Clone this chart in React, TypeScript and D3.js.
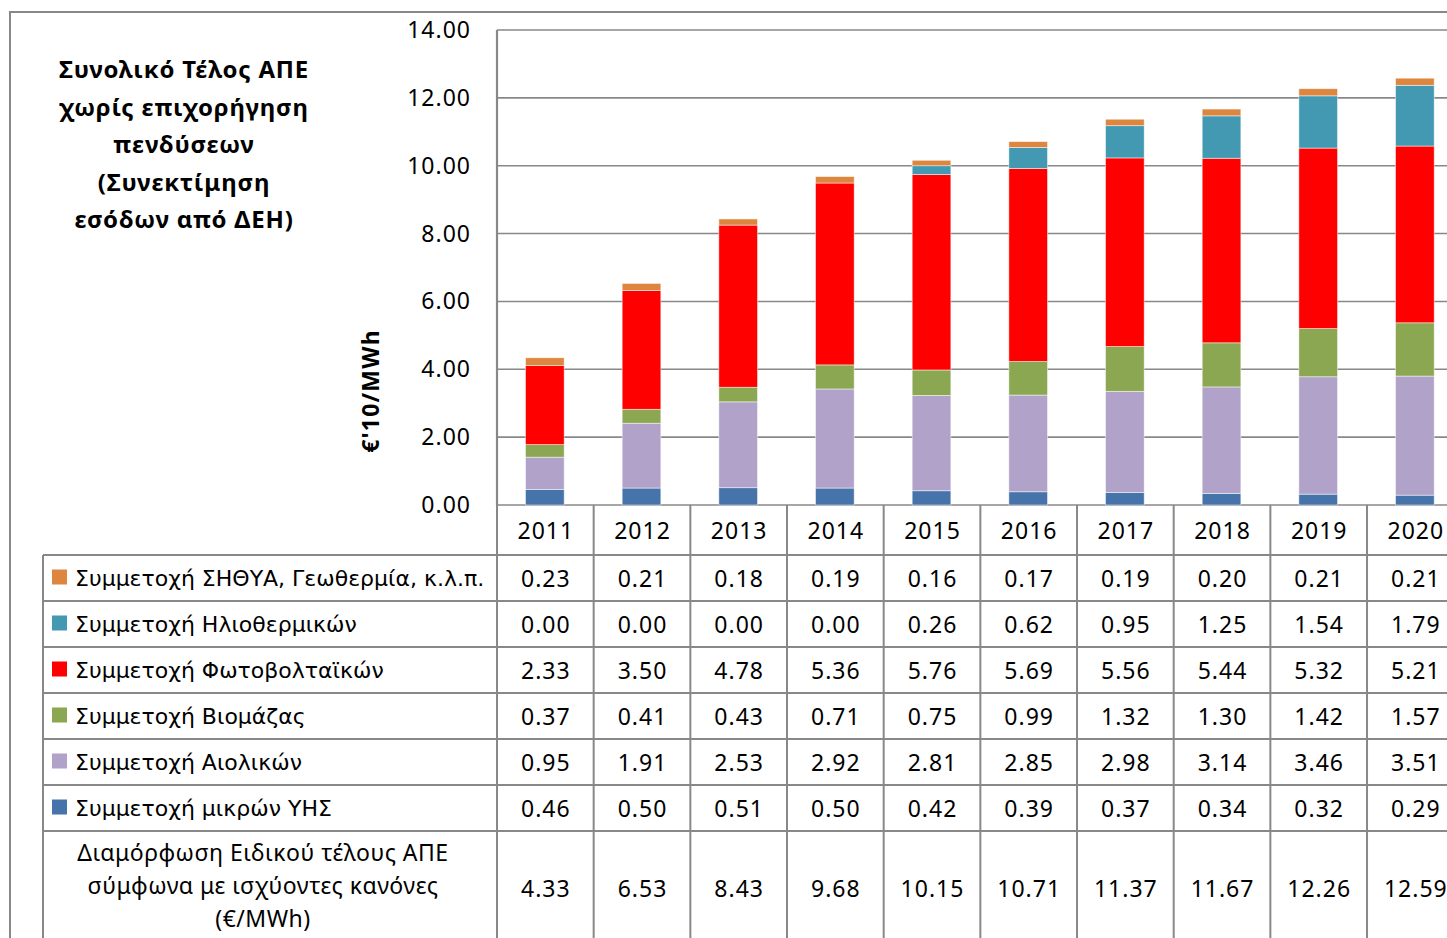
import React from "react";
import * as d3 from "d3";

const years = ["2011", "2012", "2013", "2014", "2015", "2016", "2017", "2018", "2019", "2020"];
const seriesNames = [
  "Συμμετοχή ΣΗΘΥΑ, Γεωθερμία, κ.λ.π.",
  "Συμμετοχή Ηλιοθερμικών",
  "Συμμετοχή Φωτοβολταϊκών",
  "Συμμετοχή Βιομάζας",
  "Συμμετοχή Αιολικών",
  "Συμμετοχή μικρών ΥΗΣ",
];
const chpGeo = [0.23, 0.21, 0.18, 0.19, 0.16, 0.17, 0.19, 0.2, 0.21, 0.21];
const solarThermal = [0.0, 0.0, 0.0, 0.0, 0.26, 0.62, 0.95, 1.25, 1.54, 1.79];
const photovoltaic = [2.33, 3.5, 4.78, 5.36, 5.76, 5.69, 5.56, 5.44, 5.32, 5.21];
const biomass = [0.37, 0.41, 0.43, 0.71, 0.75, 0.99, 1.32, 1.3, 1.42, 1.57];
const wind = [0.95, 1.91, 2.53, 2.92, 2.81, 2.85, 2.98, 3.14, 3.46, 3.51];
const smallHydro = [0.46, 0.5, 0.51, 0.5, 0.42, 0.39, 0.37, 0.34, 0.32, 0.29];
const totals = [4.33, 6.53, 8.43, 9.68, 10.15, 10.71, 11.37, 11.67, 12.26, 12.59];
const yTicks = [0, 2, 4, 6, 8, 10, 12, 14];
const titleLines = ["Συνολικό Τέλος ΑΠΕ", "χωρίς επιχορήγηση", "πενδύσεων", "(Συνεκτίμηση", "εσόδων από ΔΕΗ)"];
const totalLabelLines = ["Διαμόρφωση Ειδικού τέλους ΑΠΕ", "σύμφωνα με ισχύοντες κανόνες", "(€/MWh)"];

const colors = ["#DD8640", "#4399B1", "#FF0000", "#8CA752", "#B0A2C8", "#4673A9"];
const seriesValues = [chpGeo, solarThermal, photovoltaic, biomass, wind, smallHydro];

const W = 1447;
const H = 938;
const NUM_FONT = "'Noto Sans', 'Open Sans', sans-serif";
const LEG_FONT = "'DejaVu Sans', sans-serif";
const GRID = "#888888";

export default function App() {
  const x = d3.scaleBand<string>().domain(years).range([497, 1463.7]).paddingInner(0).paddingOuter(0);
  const y = d3.scaleLinear().domain([0, 14]).range([505, 30]);
  const barW = x.bandwidth() / 2.5;

  const keys = ["smallHydro", "wind", "biomass", "photovoltaic", "solarThermal", "chpGeo"];
  const keyColor: Record<string, string> = {
    smallHydro: colors[5],
    wind: colors[4],
    biomass: colors[3],
    photovoltaic: colors[2],
    solarThermal: colors[1],
    chpGeo: colors[0],
  };
  const rows = years.map((yr, i) => ({
    year: yr,
    smallHydro: smallHydro[i],
    wind: wind[i],
    biomass: biomass[i],
    photovoltaic: photovoltaic[i],
    solarThermal: solarThermal[i],
    chpGeo: chpGeo[i],
  }));
  const stacked = d3.stack<any>().keys(keys)(rows);

  const rowTops = [555, 601, 647, 693, 739, 785, 831];
  const rowH = 46;
  const boundaries = years.map((yr) => x(yr) as number).concat([(x(years[years.length - 1]) as number) + x.bandwidth()]);
  const cx = (yr: string) => (x(yr) as number) + x.bandwidth() / 2 + 0.5;

  const numProps = { fontFamily: NUM_FONT, fontSize: 23, letterSpacing: 1, fill: "#000" };

  return (
    <div style={{ position: "absolute", left: 0, top: 0, width: W, height: H, overflow: "hidden", background: "#fff" }}>
      <svg width={W} height={H} style={{ display: "block" }}>
        <rect x={0} y={0} width={W} height={H} fill="#fff" />
        <rect x={10} y={12} width={W + 20} height={H + 20} fill="none" stroke={GRID} strokeWidth={2} />

        {/* title */}
        <g fontFamily={NUM_FONT} fontWeight="bold" fontSize={24} letterSpacing={0.8} textAnchor="middle" fill="#000">
          {titleLines.map((t, i) => (
            <text key={i} x={184} y={78 + i * 37.5}>
              {t}
            </text>
          ))}
        </g>

        {/* gridlines */}
        {yTicks.map((t) => (
          <line key={t} x1={497} x2={W + 10} y1={y(t)} y2={y(t)} stroke={GRID} strokeWidth={1.6} />
        ))}
        <line x1={497} x2={497} y1={y(14)} y2={y(0)} stroke={GRID} strokeWidth={2.2} />
        {yTicks.map((t) => (
          <text key={t} x={471} y={y(t)} dy="0.35em" textAnchor="end" {...numProps}>
            {d3.format(".2f")(t)}
          </text>
        ))}
        <text
          transform={`translate(379,391) rotate(-90)`}
          textAnchor="middle"
          fontFamily={NUM_FONT}
          fontWeight="bold"
          fontSize={23}
          letterSpacing={1.2}
          fill="#000"
        >
          €'10/MWh
        </text>

        {/* bars */}
        {stacked.map((layer) => (
          <g key={layer.key} fill={keyColor[layer.key]}>
            {layer.map((d, i) =>
              d[1] - d[0] > 0 ? (
                <rect
                  key={i}
                  x={(x(years[i]) as number) + (x.bandwidth() - barW) / 2 - 0.5}
                  y={y(d[1])}
                  width={barW}
                  height={y(d[0]) - y(d[1])}
                  stroke="#ffffff"
                  strokeOpacity={0.6}
                  strokeWidth={0.8}
                />
              ) : null
            )}
          </g>
        ))}

        {/* table lines */}
        {rowTops.map((ty) => (
          <line key={ty} x1={43} x2={W + 10} y1={ty} y2={ty} stroke={GRID} strokeWidth={2} />
        ))}
        <line x1={43} x2={43} y1={555} y2={H + 10} stroke={GRID} strokeWidth={2} />
        {boundaries.map((bx, i) => (
          <line key={i} x1={bx} x2={bx} y1={505} y2={H + 10} stroke={GRID} strokeWidth={2} />
        ))}

        {/* header years */}
        {years.map((yr) => (
          <text key={yr} x={cx(yr)} y={531} dy="0.35em" textAnchor="middle" {...numProps}>
            {yr}
          </text>
        ))}

        {/* series rows */}
        {seriesNames.map((name, r) => {
          const cy = rowTops[r] + rowH / 2;
          return (
            <g key={name}>
              <rect x={52} y={cy - 8.5} width={15} height={15} fill={colors[r]} />
              <text x={75} y={cy} dy="0.35em" fontFamily={LEG_FONT} fontSize={22} fill="#000">
                {name}
              </text>
              {seriesValues[r].map((v, i) => (
                <text key={i} x={cx(years[i])} y={cy + 1} dy="0.35em" textAnchor="middle" {...numProps}>
                  {d3.format(".2f")(v)}
                </text>
              ))}
            </g>
          );
        })}

        {/* totals row */}
        {totalLabelLines.map((t, i) => (
          <text
            key={i}
            x={263}
            y={853 + i * 33}
            dy="0.35em"
            textAnchor="middle"
            fontFamily={NUM_FONT}
            fontSize={23}
            letterSpacing={0.5}
            fill="#000"
          >
            {t}
          </text>
        ))}
        {totals.map((v, i) => (
          <text key={i} x={cx(years[i])} y={889} dy="0.35em" textAnchor="middle" {...numProps}>
            {d3.format(".2f")(v)}
          </text>
        ))}
      </svg>
    </div>
  );
}
